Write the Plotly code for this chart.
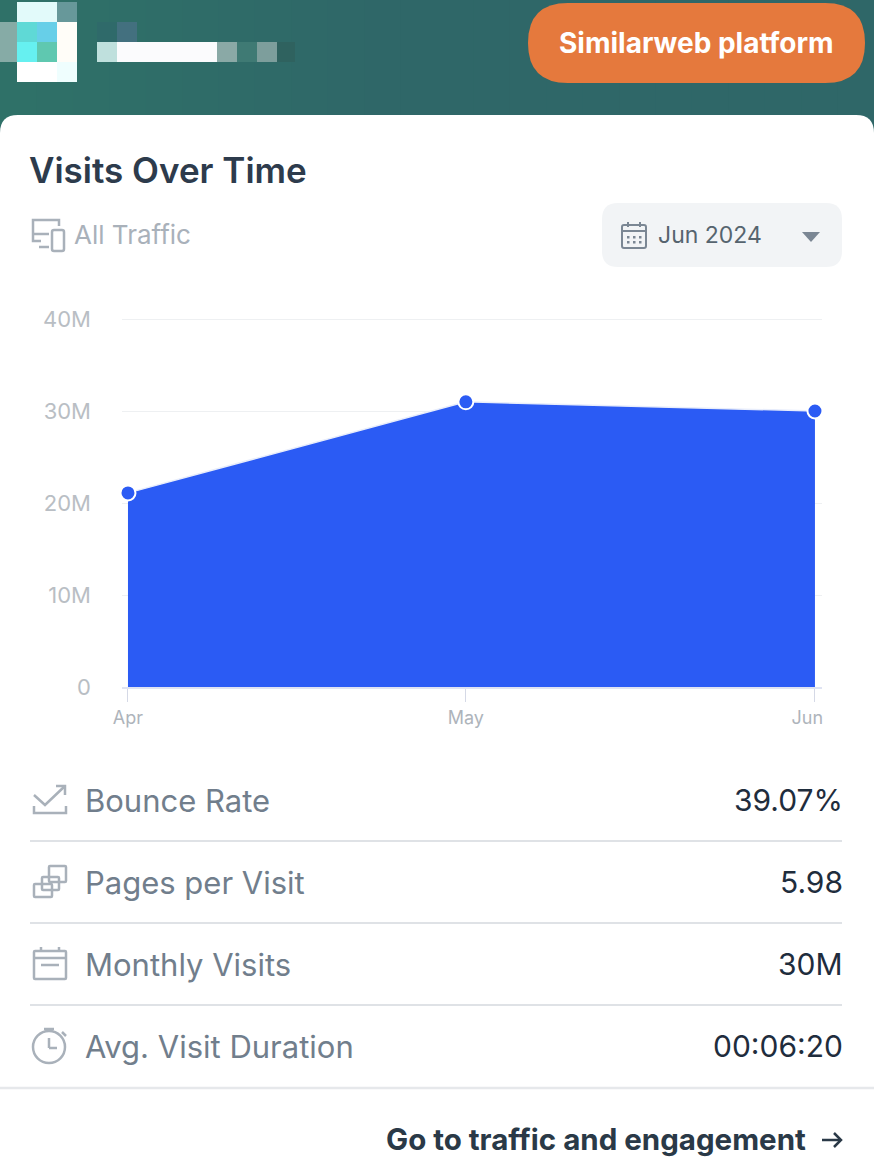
"""
Visits Over Time card, redrawn in plotly.
"""

import plotly.graph_objects as go

W, H = 874, 1164

# chart data
months = ["2024-04-01", "2024-05-01", "2024-06-01"]
month_labels = ["Apr", "May", "Jun\u00a0\u00a0\u00a0"]
visits = [21100000, 31000000, 30000000]
y_ticks = [0, 10000000, 20000000, 30000000, 40000000]
y_labels = ["0", "10M", "20M", "30M", "40M"]

# metric rows
metric_names = ["Bounce Rate", "Pages per Visit", "Monthly Visits", "Avg. Visit Duration"]
metric_values = ["39.07%", "5.98", "30M", "00:06:20"]

FONT = "Inter"
BLUE = "#2b5bf4"
ICON = "#a9b1ba"


def px(x, y):
    return x / W, 1 - y / H


def path_px(*parts):
    # build an svg path from pixel coordinates, paper refs need fractions
    out = []
    for part in parts:
        if isinstance(part, str):
            out.append(part)
        else:
            fx, fy = px(*part)
            out.append(f"{fx:.5f},{fy:.5f}")
    return " ".join(out)


def rect_path(x0, y0, x1, y1, r):
    return path_px(
        "M", (x0 + r, y0), "L", (x1 - r, y0), "Q", (x1, y0), (x1, y0 + r),
        "L", (x1, y1 - r), "Q", (x1, y1), (x1 - r, y1),
        "L", (x0 + r, y1), "Q", (x0, y1), (x0, y1 - r),
        "L", (x0, y0 + r), "Q", (x0, y0), (x0 + r, y0), "Z",
    )


fig = go.Figure()

fig.add_trace(
    go.Scatter(
        x=months,
        y=visits,
        mode="lines+markers",
        fill="tozeroy",
        fillcolor=BLUE,
        line=dict(color="#e8edfb", width=1.5),
        marker=dict(color=BLUE, size=15, line=dict(color="#ffffff", width=2)),
        cliponaxis=False,
        hoverinfo="x+y",
    )
)

shapes = []


def add_rect(x0, y0, x1, y1, fill):
    fx0, fy0 = px(x0, y0)
    fx1, fy1 = px(x1, y1)
    shapes.append(
        dict(type="rect", xref="paper", yref="paper", x0=fx0, y0=fy0, x1=fx1, y1=fy1,
             fillcolor=fill, line_width=0, layer="below")
    )


def add_path(path, fill=None, color=None, width=0):
    shapes.append(
        dict(type="path", xref="paper", yref="paper", path=path,
             fillcolor=fill or "rgba(0,0,0,0)",
             line=dict(color=color or "rgba(0,0,0,0)", width=width), layer="below")
    )


def add_line(x0, y0, x1, y1, color=ICON, width=2.5):
    add_path(path_px("M", (x0, y0), "L", (x1, y1)), color=color, width=width)


def add_box(x0, y0, x1, y1, r=2, color=ICON, width=2.5, fill=None):
    add_path(rect_path(x0, y0, x1, y1, r), fill=fill, color=color, width=width)


def add_circle(cx, cy, r, color=ICON, width=2.5):
    fx0, fy0 = px(cx - r, cy - r)
    fx1, fy1 = px(cx + r, cy + r)
    shapes.append(
        dict(type="circle", xref="paper", yref="paper", x0=fx0, y0=fy0, x1=fx1, y1=fy1,
             line=dict(color=color, width=width), layer="below")
    )


# header, a bit greener to the left, stripes fine enough not to show
for i in range(24):
    green = 0x71 - min(i, 10)
    add_rect(i * W / 24, 0, (i + 1) * W / 24 + 1, 125, f"#2f{green:02x}68")

# pixelated logo
logo_blocks = [
    (17, 2, 57, 22, "#e2fafa"), (57, 2, 77, 22, "#67989a"),
    (0, 22, 17, 62, "#86aba6"),
    (17, 22, 37, 42, "#5fd9d6"), (37, 22, 57, 42, "#67cfe8"), (57, 22, 77, 42, "#fffdf8"),
    (17, 42, 37, 62, "#66f0f0"), (37, 42, 57, 62, "#5fc8b0"), (57, 42, 77, 62, "#fffdf8"),
    (17, 62, 57, 82, "#ffffff"), (57, 62, 77, 82, "#effefe"),
    (97, 22, 117, 42, "#2f6a6a"), (117, 22, 137, 42, "#43707f"),
    (97, 42, 117, 62, "#bfe0dd"), (117, 42, 217, 62, "#fbfbfd"),
    (217, 42, 237, 62, "#8aa9a6"), (237, 42, 257, 62, "#3f7a74"),
    (257, 42, 277, 62, "#7d9e9c"), (277, 42, 295, 62, "#2f625f"),
]
for x0, y0, x1, y1, c in logo_blocks:
    add_rect(x0, y0, x1, y1, c)

add_path(rect_path(528, 3, 865, 83, 40), fill="#e5793d")

# white card
add_path(rect_path(0, 115, W, H + 40, 18), fill="#ffffff")

# dropdown
add_path(rect_path(602, 203, 842, 267, 16), fill="#f2f4f6")
add_path(path_px("M", (802, 232), "L", (820, 232), "L", (811, 242), "Z"), fill="#7b8794")

# calendar icon in dropdown
add_box(622, 225, 646, 248, 2, color="#7b8794", width=2)
add_line(622, 231, 646, 231, color="#7b8794", width=2)
add_line(628, 222, 628, 227, color="#7b8794", width=2)
add_line(640, 222, 640, 227, color="#7b8794", width=2)
for gx in [628, 634, 640]:
    for gy in [237, 242]:
        add_rect(gx - 1, gy - 1, gx + 1.5, gy + 1.5, "#7b8794")

# all traffic icon
add_path(path_px("M", (41, 241), "L", (33, 241), "L", (33, 220), "L", (59, 220), "L", (59, 226)),
         color=ICON, width=2.5)
add_line(33, 234, 49, 234)
add_line(39, 247, 49, 247)
add_box(52, 230, 64, 251, 2)

# dividers
for dy in [841, 923, 1005]:
    add_line(30, dy, 842, dy, color="#dfe2e6", width=2)
add_line(0, 1088, W, 1088, color="#e6e8eb", width=2.5)

# bounce rate icon
add_path(path_px("M", (34, 795), "L", (45, 805), "L", (65, 786)), color=ICON, width=2.5)
add_path(path_px("M", (56, 786), "L", (65, 786), "L", (65, 795)), color=ICON, width=2.5)
add_path(path_px("M", (34, 806), "L", (34, 813), "L", (66, 813), "L", (66, 806)), color=ICON, width=2.5)

# pages icon
add_box(34, 884, 52, 897, 1)
add_box(42, 877, 59, 890, 1)
add_box(49, 866, 66, 882, 1)

# monthly visits icon
add_box(34, 951, 66, 979, 1)
add_line(34, 958, 66, 958)
add_line(41, 965, 59, 965)
add_line(41, 947, 41, 951)
add_line(59, 947, 59, 951)

# duration icon
add_circle(49, 1047, 16)
add_line(44, 1029, 54, 1029)
add_line(49, 1038, 49, 1048)
add_line(49, 1048, 57, 1048)
add_line(62, 1032, 66, 1036)

# link arrow
add_line(822, 1140, 841, 1140, color="#2a3947", width=2.5)
add_path(path_px("M", (834, 1133), "L", (841, 1140), "L", (834, 1147)), color="#2a3947", width=2.5)

annotations = []


def add_text(text, x, y, size, color, anchor="left", weight=400):
    fx, fy = px(x, y)
    annotations.append(
        dict(text=text, x=fx, y=fy, xref="paper", yref="paper", xanchor=anchor, yanchor="middle",
             showarrow=False, font=dict(family=FONT, size=size, color=color, weight=weight))
    )


add_text("Similarweb platform", 696, 43, 28, "#ffffff", "center", 700)
add_text("Visits Over Time", 27, 170, 35, "#2d3b4c", weight=600)
add_text("All Traffic", 72, 235, 26, "#a9b1ba")
add_text("Jun 2024", 656, 235, 23, "#56646f")
add_text("Go to traffic and engagement", 808, 1139, 29.5, "#2a3947", "right", 700)

for name, value, row_y in zip(metric_names, metric_values, [800, 882, 964, 1046]):
    add_text(name, 83, row_y, 31, "#717e8c")
    add_text(value, 845, row_y, 30, "#1f2d3d", "right")

fig.update_layout(
    width=W,
    height=H,
    margin=dict(l=0, r=0, t=0, b=0, pad=0, autoexpand=False),
    paper_bgcolor="#2f6a68",
    plot_bgcolor="rgba(0,0,0,0)",
    showlegend=False,
    shapes=shapes,
    annotations=annotations,
    font=dict(family=FONT),
    xaxis=dict(
        type="date",
        automargin=False,
        domain=[122 / W, 822 / W],
        range=["2024-03-31 11:15", "2024-06-01 15:00"],
        tickmode="array",
        tickvals=months,
        ticktext=month_labels,
        ticks="outside",
        ticklen=13,
        tickwidth=1,
        tickcolor="#d5d9e6",
        tickfont=dict(size=18, color="#aeb4bb"),
        showgrid=False,
        zeroline=False,
        showline=True,
        linecolor="#dfe3f2",
        linewidth=2,
    ),
    yaxis=dict(
        automargin=False,
        # top of the range sits a hair above 40M so its gridline gets drawn
        domain=[1 - 687 / H, 1 - 317.16 / H],
        range=[0, 40200000],
        tickmode="array",
        tickvals=y_ticks,
        ticktext=y_labels,
        ticks="",
        ticklabelstandoff=30,
        tickfont=dict(size=22, color="#b9bec4"),
        showgrid=True,
        gridcolor="#eef0f2",
        gridwidth=1,
        zeroline=False,
        showline=False,
    ),
)

fig.write_html(
    "out.html",
    config=dict(displayModeBar=False),
    post_script="document.body.style.margin='0';document.body.style.overflow='hidden';",
)
